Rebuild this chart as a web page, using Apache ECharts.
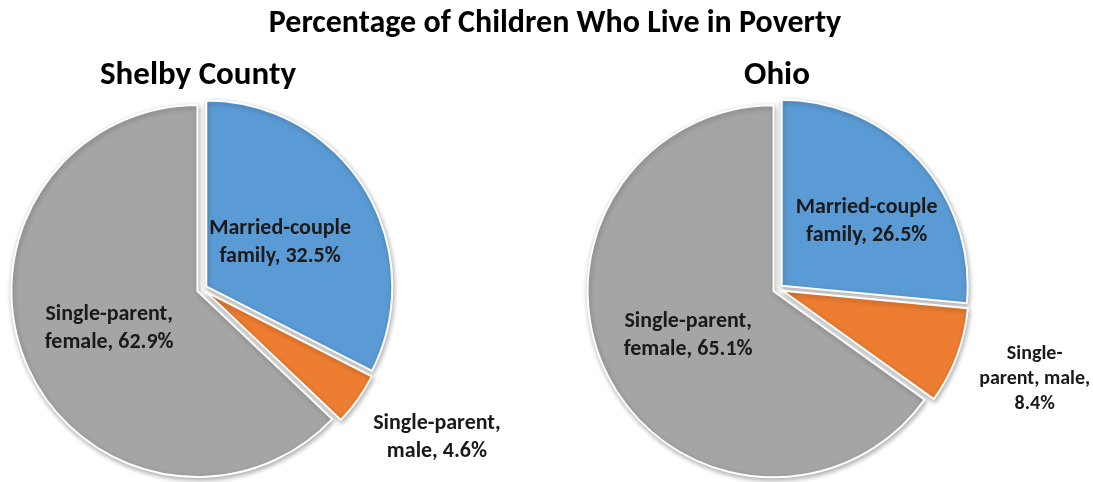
<!DOCTYPE html>
<html>
<head>
<meta charset="utf-8">
<script src="https://cdn.jsdelivr.net/npm/echarts@6/dist/echarts.min.js"></script>
<style>
html,body{margin:0;padding:0;background:#fff;}
#c{width:1093px;height:482px;}
</style>
</head>
<body>
<div id="c"></div>
<script>
const categories = ['Married-couple family', 'Single-parent, male', 'Single-parent, female'];
const shelbyValues = [32.5, 4.6, 62.9];
const ohioValues = [26.5, 8.4, 65.1];
const shelbyLabels = [['Married-couple', 'family, 32.5%'], ['Single-parent,', 'male, 4.6%'], ['Single-parent,', 'female, 62.9%']];
const ohioLabels = [['Married-couple', 'family, 26.5%'], ['Single-', 'parent, male,', '8.4%'], ['Single-parent,', 'female, 65.1%']];
const colors = ['#5B9BD5', '#ED7D31', '#A5A5A5'];

const FONT = "Carlito, 'Open Sans', 'Liberation Sans', sans-serif";
const R = 186;
const centers = [[202, 289], [778, 289]];
// label placement tuning per pie (style only)
const insidePadding = [
  [[12, 16, 0, 0], null, null],
  [[0, 0, 0, 28], null, null]
];
const outsideStyle = [
  { len1: 19.6, len2: 0, width: 116, padding: [54, 0, 0, 0], fontSize: 22, lineHeight: 28 },
  { len1: 19, len2: 0, width: 110, padding: [32, 0, 0, 0], fontSize: 20, lineHeight: 25 }
];

function makeData(values, labels, idx) {
  return values.map((v, i) => {
    const outside = i === 1;
    const st = outsideStyle[idx];
    const item = {
      name: categories[i],
      value: v,
      selected: true,
      itemStyle: { color: colors[i] },
      label: {
        formatter: labels[i].map(s => '{' + (outside ? 'o' : 'c') + '|' + s + '}').join('\n'),
        position: outside ? 'outside' : 'inside'
      },
      labelLine: { show: false }
    };
    if (!outside && insidePadding[idx][i]) {
      item.label.padding = insidePadding[idx][i];
    }
    if (outside) {
      item.label.width = st.width;
      item.label.padding = st.padding;
      item.label.overflow = 'none';
      item.label.distanceToLabelLine = 5;
      item.label.rich = {
        o: {
          align: 'center', color: '#1a1a1a', fontFamily: FONT, fontWeight: 'bold',
          fontSize: st.fontSize, lineHeight: st.lineHeight
        }
      };
      item.labelLine = { show: false, length: st.len1, length2: st.len2 };
    }
    return item;
  });
}

function makeSeries(values, labels, idx) {
  return {
    type: 'pie',
    center: centers[idx],
    radius: [0, R],
    startAngle: 90,
    clockwise: true,
    selectedMode: 'multiple',
    selectedOffset: 5,
    silent: true,
    animation: false,
    avoidLabelOverlap: false,
    itemStyle: {
      borderColor: '#ffffff',
      borderWidth: 2,
      shadowBlur: 5,
      shadowColor: 'rgba(0,0,0,0.3)',
      shadowOffsetX: 1,
      shadowOffsetY: 2
    },
    label: {
      show: true,
      color: '#1a1a1a',
      fontFamily: FONT,
      fontWeight: 'bold',
      fontSize: 22,
      lineHeight: 28,
      rich: {
        c: {
          align: 'center',
          color: '#1a1a1a',
          fontFamily: FONT,
          fontWeight: 'bold',
          fontSize: 22,
          lineHeight: 28
        }
      }
    },
    data: makeData(values, labels, idx)
  };
}

const chart = echarts.init(document.getElementById('c'), null, { renderer: 'canvas' });
chart.setOption({
  backgroundColor: '#ffffff',
  animation: false,
  title: [
    {
      text: 'Percentage of Children Who Live in Poverty',
      left: 550, textAlign: 'center', top: 3,
      textStyle: { fontFamily: FONT, fontWeight: 'bold', fontSize: 32, color: '#000' }
    },
    {
      text: 'Shelby County',
      left: 193, textAlign: 'center', top: 54,
      textStyle: { fontFamily: FONT, fontWeight: 'bold', fontSize: 33, color: '#000' }
    },
    {
      text: 'Ohio',
      left: 772, textAlign: 'center', top: 54,
      textStyle: { fontFamily: FONT, fontWeight: 'bold', fontSize: 33, color: '#000' }
    }
  ],
  series: [
    makeSeries(shelbyValues, shelbyLabels, 0),
    makeSeries(ohioValues, ohioLabels, 1)
  ]
});
</script>
</body>
</html>
